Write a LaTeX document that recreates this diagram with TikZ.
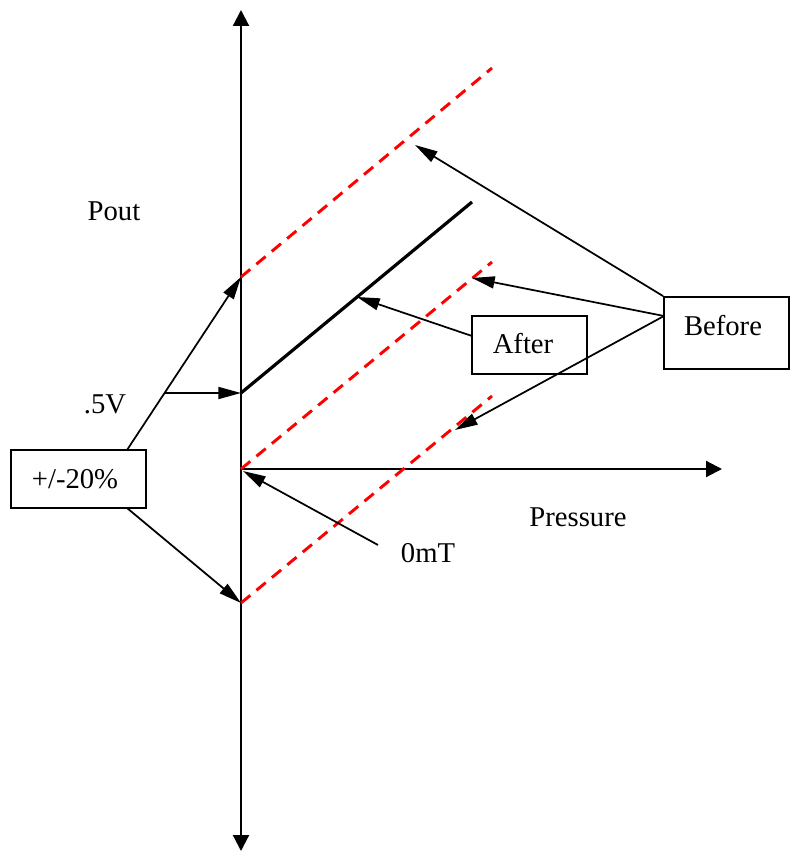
\documentclass[tikz,border=0pt]{standalone}
\usepackage{fontspec}
\setmainfont{Liberation Serif}
\usetikzlibrary{arrows.meta}
\begin{document}
\begin{tikzpicture}[x=0.75pt,y=-0.75pt,
  axisline/.style={line width=1.6pt},
  axtip/.style={-{Triangle[length=12pt,width=12pt]}},
  thinarr/.style={line width=1.3pt,-{Triangle[length=17pt,width=9pt]}},
  reddash/.style={red,line width=2.2pt,dash pattern=on 9pt off 6pt},
  boxnode/.style={draw,line width=1.4pt,inner sep=0pt},
  lbl/.style={font=\fontsize{21.5}{24}\selectfont,inner sep=0pt}]
\useasboundingbox (0,0) rectangle (790,852);
% axes
\coordinate (O) at (241,469);
\coordinate (ytop) at (241,10);
\coordinate (ybot) at (241,851);
\coordinate (xend) at (722,469);
\draw[axisline,{Triangle[length=12pt,width=12pt]}-{Triangle[length=12pt,width=12pt]}] (ybot) -- (ytop);
\draw[axisline,axtip] (O) -- (xend);
% red dashed lines
\coordinate (r1a) at (241,277); \coordinate (r1b) at (492,68);
\coordinate (r2b) at (492,262);
\coordinate (r3a) at (241,603); \coordinate (r3b) at (492,396);
\draw[reddash] (r1a) -- (r1b);
\draw[reddash] (O) -- (r2b);
\draw[reddash] (r3a) -- (r3b);
% black solid line
\coordinate (b1a) at (241,393); \coordinate (b1b) at (472,202);
\draw[line width=2.4pt] (b1a) -- (b1b);
% boxes
\node[boxnode,minimum width=101.25pt,minimum height=43.5pt] (pm) at (78.5,479) {};
\node[lbl] (pmtext) at (75,479) {+/-20\%};
\node[boxnode,minimum width=86.25pt,minimum height=43.5pt] (after) at (529.5,345) {};
\node[lbl] (aftertext) at (523,344) {After};
\node[boxnode,minimum width=93.75pt,minimum height=54pt] (before) at (726.5,333) {};
\node[lbl] (beforetext) at (723,326) {Before};
% labels
\node[lbl] (pout) at (114,211) {Pout};
\node[lbl] (halfv) at (105,404) {.5V};
\node[lbl] (press) at (578,517) {Pressure};
\node[lbl] (zmt) at (428,553) {0mT};
% arrows from +/-20%
\coordinate (pmT) at (127,450);
\coordinate (pmB) at (127,508);
\coordinate (vS) at (165,393);
\draw[thinarr] (pmT) -- (r1a);
\draw[thinarr] (pmB) -- (r3a);
\draw[thinarr] (vS) -- (b1a);
% After arrow
\coordinate (aS) at (472,336);
\coordinate (aT) at (357,297);
\draw[thinarr] (aS) -- (aT);
% Before arrows
\coordinate (bL) at (664,316);
\coordinate (bT1) at (415,145);
\coordinate (bT2) at (472,278);
\coordinate (bT3) at (455,430);
\draw[thinarr] (before.north west) -- (bT1);
\draw[thinarr] (bL) -- (bT2);
\draw[thinarr] (bL) -- (bT3);
% 0mT arrow
\coordinate (zS) at (378,545);
\coordinate (zT) at (243,471);
\draw[thinarr] (zS) -- (zT);
\end{tikzpicture}
\end{document}
